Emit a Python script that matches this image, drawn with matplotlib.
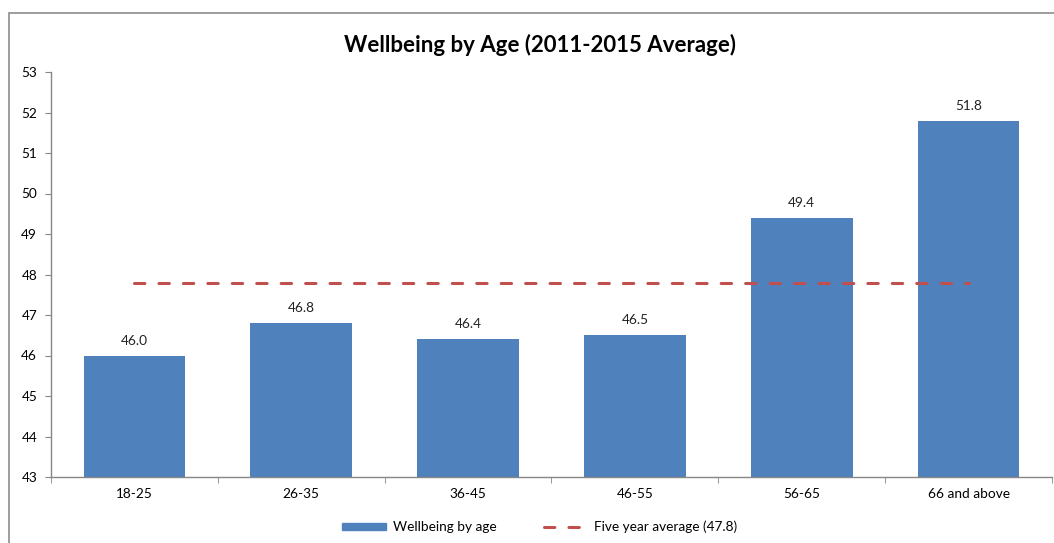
import matplotlib.pyplot as plt
import numpy as np
from matplotlib.patches import Rectangle
from matplotlib.lines import Line2D

plt.rcParams['font.family'] = ['Lato', 'DejaVu Sans']

# data
age_groups = ['18-25', '26-35', '36-45', '46-55', '56-65', '66 and above']
wellbeing = [46.0, 46.8, 46.4, 46.5, 49.4, 51.8]
five_year_avg = 47.8

bar_color = '#4F81BD'
line_color = '#C0504D'
axis_gray = '#868686'

fig = plt.figure(figsize=(10.54, 5.43), dpi=100)
ax = fig.add_axes([51 / 1054, 1 - 477 / 543, (1052 - 51) / 1054, (477 - 72) / 543])

x = np.arange(len(age_groups))
bars = ax.bar(x, wellbeing, width=0.61, color=bar_color, zorder=2)
ax.plot([x[0], x[-1]], [five_year_avg, five_year_avg], color=line_color,
        linewidth=2.2, dashes=(3.4, 4.6), dash_capstyle='round', zorder=3)

for xi, v in zip(x, wellbeing):
    ax.text(xi, v + 0.22, f'{v:.1f}', ha='center', va='bottom', fontsize=9.8, color='#222222')

ax.set_ylim(43, 53)
ax.set_xlim(-0.5, len(age_groups) - 0.5)
ax.set_yticks(range(43, 54))
ax.set_xticks(x)
ax.set_xticklabels(age_groups)
ax.set_xticks(np.arange(-0.5, len(age_groups)), minor=True)
ax.tick_params(axis='x', which='major', length=0, pad=8, labelsize=9.8)
ax.tick_params(axis='x', which='minor', length=4, color=axis_gray)
ax.tick_params(axis='y', length=4, color=axis_gray, labelsize=9.8, pad=6)

for s in ['top', 'right']:
    ax.spines[s].set_visible(False)
for s in ['left', 'bottom']:
    ax.spines[s].set_color(axis_gray)
    ax.spines[s].set_linewidth(1.0)

fig.text(540 / 1054, 1 - 45 / 543, 'Wellbeing by Age (2011-2015 Average)',
         ha='center', va='center', fontsize=16, fontweight='bold')

# chart border (right and bottom edges fall outside the image)
fig.patches.append(Rectangle((9 / 1054, -0.1), 1.1, 1 - 13 / 543 + 0.1,
                             transform=fig.transFigure, fill=False,
                             edgecolor='#8C8C8C', linewidth=1.2))

handles = [Rectangle((0, 0), 1, 1, color=bar_color),
           Line2D([0], [0], color=line_color, linewidth=2.2, dashes=(3.4, 4.6),
                  dash_capstyle='round')]
fig.legend(handles, ['Wellbeing by age', 'Five year average (47.8)'],
           loc='center', bbox_to_anchor=(540 / 1054, 1 - 527 / 543), ncol=2,
           frameon=False, fontsize=9.8, handlelength=3.2, handleheight=0.5,
           columnspacing=3.5, handletextpad=0.5)

plt.savefig('out.png', dpi=100)
